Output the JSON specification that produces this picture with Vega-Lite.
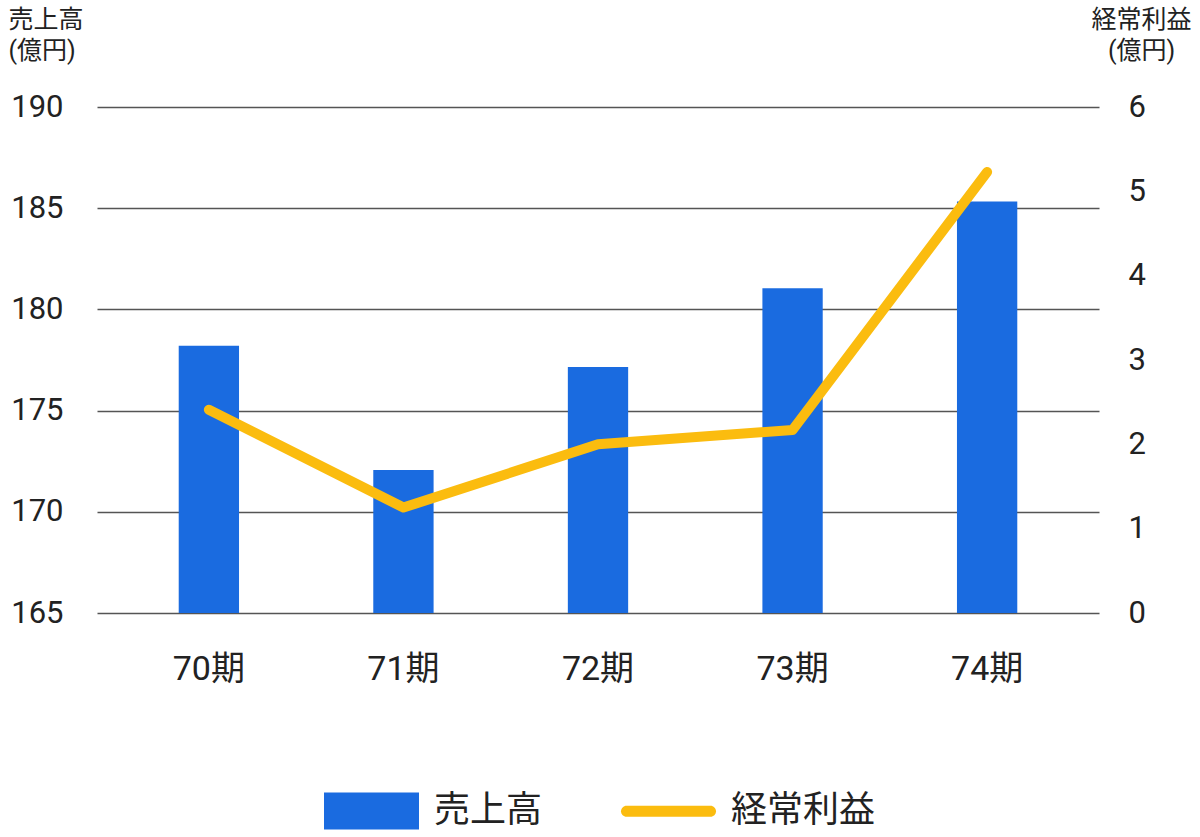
{
  "$schema": "https://vega.github.io/schema/vega-lite/v6.json",
  "autosize": "none",
  "width": 1002,
  "height": 506,
  "padding": {"left": 97, "top": 107, "right": 101, "bottom": 224},
  "background": "white",
  "config": {
    "font": "Roboto, 'Noto Sans CJK JP'",
    "view": {"stroke": null}
  },
  "data": {
    "values": [
      {"period": "70期", "sales": 178.2, "profit": 2.41},
      {"period": "71期", "sales": 172.07, "profit": 1.25},
      {"period": "72期", "sales": 177.15, "profit": 2.0},
      {"period": "73期", "sales": 181.05, "profit": 2.17},
      {"period": "74期", "sales": 185.33, "profit": 5.23}
    ]
  },
  "encoding": {
    "x": {
      "field": "period",
      "type": "nominal",
      "sort": null,
      "scale": {"paddingInner": 0.69, "paddingOuter": 0.42},
      "axis": {
        "title": null,
        "labelAngle": 0,
        "labelFontSize": 34,
        "labelColor": "#222",
        "labelPadding": 39,
        "domain": false,
        "ticks": false,
        "grid": false
      }
    }
  },
  "layer": [
    {
      "mark": {"type": "bar", "color": "#1A6BE0"},
      "encoding": {
        "y": {
          "field": "sales",
          "type": "quantitative",
          "scale": {"domain": [165, 190], "nice": false, "zero": false},
          "axis": {
            "values": [165, 170, 175, 180, 185, 190],
            "title": ["売上高", "(億円)"],
            "titleFontSize": 25,
            "titleFontWeight": "normal",
            "titleColor": "#222",
            "titleAngle": 0,
            "titleAlign": "left",
            "titleBaseline": "top",
            "titleX": -89,
            "titleY": -100,
            "titleLineHeight": 31,
            "labelFontSize": 31,
            "labelColor": "#222",
            "labelPadding": 34,
            "domain": false,
            "ticks": false,
            "grid": true,
            "gridColor": "#555",
            "gridWidth": 1.3
          }
        },
        "y2": {"datum": 165},
        "color": {
          "datum": "売上高",
          "scale": {"domain": ["売上高", "経常利益"], "range": ["#1A6BE0", "#FBBC0F"]},
          "legend": {
            "title": null,
            "orient": "none",
            "legendX": 227,
            "legendY": 656,
            "direction": "horizontal",
            "padding": 0,
            "symbolSize": 9025,
            "symbolType": "M-1,-0.39H1V0.39H-1Z",
            "labelFontSize": 36,
            "labelColor": "#222",
            "labelOffset": 15,
            "columnPadding": 77,
            "labelLimit": 300,
            "encode": {
              "symbols": {
                "update": {
                  "shape": [
                    {"test": "datum.label === '経常利益'", "value": "M-0.883,-0.117H0.883A0.117,0.117 0 0 1 0.883,0.117H-0.883A0.117,0.117 0 0 1 -0.883,-0.117Z"},
                    {"value": "M-1,-0.39H1V0.39H-1Z"}
                  ],
                  "fill": [
                    {"test": "datum.label === '経常利益'", "value": "#FBBC0F"},
                    {"value": "#1A6BE0"}
                  ],
                  "fillOpacity": {"value": 1},
                  "strokeWidth": {"value": 0}
                }
              }
            }
          }
        }
      }
    },
    {
      "mark": {"type": "line", "strokeWidth": 10, "strokeCap": "round", "strokeJoin": "round"},
      "encoding": {
        "y": {
          "field": "profit",
          "type": "quantitative",
          "scale": {"domain": [0, 6], "nice": false},
          "axis": {
            "orient": "right",
            "values": [0, 1, 2, 3, 4, 5, 6],
            "title": ["経常利益", "(億円)"],
            "titleFontSize": 25,
            "titleFontWeight": "normal",
            "titleColor": "#222",
            "titleAngle": 0,
            "titleAlign": "center",
            "titleBaseline": "top",
            "titleX": 42,
            "titleY": -100,
            "titleLineHeight": 31,
            "labelFontSize": 31,
            "labelColor": "#222",
            "labelPadding": 29,
            "domain": false,
            "ticks": false,
            "grid": false
          }
        },
        "color": {"datum": "経常利益"}
      }
    }
  ],
  "resolve": {"scale": {"y": "independent"}}
}
